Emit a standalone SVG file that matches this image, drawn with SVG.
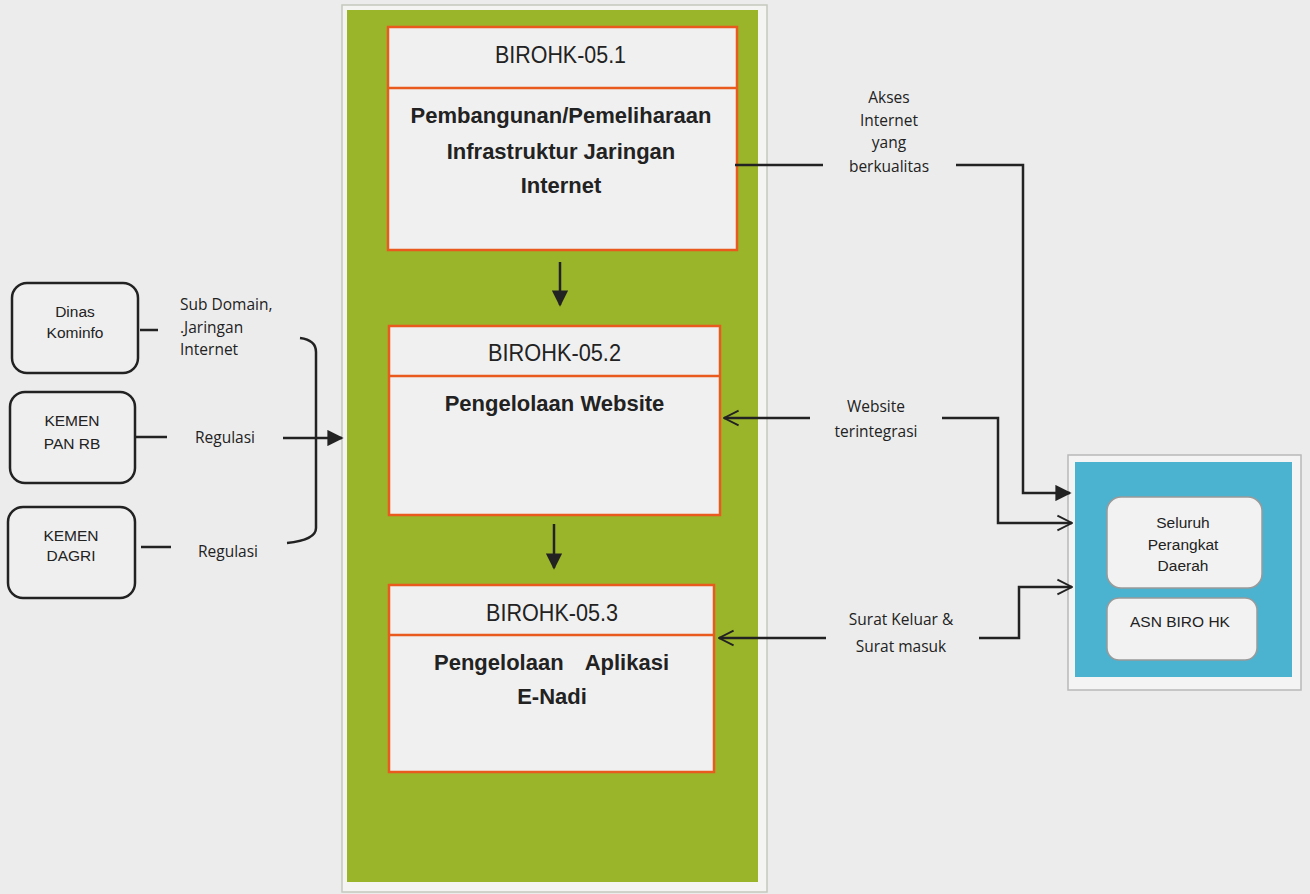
<svg xmlns="http://www.w3.org/2000/svg" width="1310" height="894" viewBox="0 0 1310 894">
  <style>
    .bg { fill: #ececec; }
    .task { fill: #f0f0f0; stroke: #e85a1e; stroke-width: 2.5; }
    .divider { stroke: #e85a1e; stroke-width: 2.5; }
    .actor { fill: #efefef; stroke: #222; stroke-width: 2.5; }
    .inner { fill: #f2f2f2; stroke: #9a9a9a; stroke-width: 1.5; }
    .code { font-family: "Liberation Sans", Arial, sans-serif; font-size: 24px; fill: #222; text-anchor: middle; }
    .title { font-family: "Liberation Sans", Arial, sans-serif; font-size: 22px; font-weight: bold; fill: #222; text-anchor: middle; }
    .actor-t { font-family: "Liberation Sans", Arial, sans-serif; font-size: 15.5px; fill: #222; text-anchor: middle; }
    .label { font-family: "Open Sans", "Liberation Sans", sans-serif; font-size: 15.5px; fill: #222; text-anchor: middle; }
    .label-l { font-family: "Open Sans", "Liberation Sans", sans-serif; font-size: 15.5px; fill: #222; text-anchor: start; }
    .wire { fill: none; stroke: #222; stroke-width: 2.5; }
  </style>
  <defs>
    <marker id="solid" viewBox="0 0 10 10" refX="9" refY="5" markerWidth="6.5" markerHeight="6.5" markerUnits="strokeWidth" orient="auto">
      <path d="M0,0 L10,5 L0,10 Z" fill="#222"/>
    </marker>
    <marker id="open" viewBox="0 0 12 12" refX="11" refY="6" markerWidth="7" markerHeight="7" markerUnits="strokeWidth" orient="auto">
      <path d="M1,1 L11,6 L1,11" fill="none" stroke="#222" stroke-width="1.3"/>
    </marker>
  </defs>

  <rect class="bg" x="0" y="0" width="1310" height="894"/>

  <!-- green programme panel -->
  <g id="panel">
    <rect x="342" y="5" width="425" height="887" fill="#f4f4f2" stroke="#c4c8bc" stroke-width="1.5"/>
    <rect x="347" y="10" width="411" height="872" fill="#9bb52b"/>
  </g>

  <g id="birohk-05-1">
    <rect class="task" x="388" y="27" width="349" height="223"/>
    <line class="divider" x1="388" y1="88" x2="737" y2="88"/>
    <text class="code" x="560.5" y="63" textLength="131" lengthAdjust="spacingAndGlyphs">BIROHK-05.1</text>
    <text class="title" x="561" y="123">Pembangunan/Pemeliharaan</text>
    <text class="title" x="561" y="159">Infrastruktur Jaringan</text>
    <text class="title" x="561" y="193">Internet</text>
  </g>

  <g id="birohk-05-2">
    <rect class="task" x="389" y="326" width="331" height="189"/>
    <line class="divider" x1="389" y1="376" x2="720" y2="376"/>
    <text class="code" x="554.5" y="361" textLength="133" lengthAdjust="spacingAndGlyphs">BIROHK-05.2</text>
    <text class="title" x="554.5" y="411">Pengelolaan Website</text>
  </g>

  <g id="birohk-05-3">
    <rect class="task" x="389" y="585" width="325" height="187"/>
    <line class="divider" x1="389" y1="635" x2="714" y2="635"/>
    <text class="code" x="552" y="621" textLength="132" lengthAdjust="spacingAndGlyphs">BIROHK-05.3</text>
    <text class="title" y="670"><tspan x="434" style="text-anchor:start">Pengelolaan</tspan><tspan x="669" style="text-anchor:end">Aplikasi</tspan></text>
    <text class="title" x="552" y="704">E-Nadi</text>
  </g>

  <g id="dinas-kominfo">
    <rect class="actor" x="12" y="283" width="126" height="90" rx="15"/>
    <text class="actor-t" x="75" y="317">Dinas</text>
    <text class="actor-t" x="75" y="338">Kominfo</text>
  </g>

  <g id="kemen-pan-rb">
    <rect class="actor" x="10" y="392" width="125" height="91" rx="15"/>
    <text class="actor-t" x="72" y="426">KEMEN</text>
    <text class="actor-t" x="72" y="449">PAN RB</text>
  </g>

  <g id="kemen-dagri">
    <rect class="actor" x="8" y="507" width="127" height="91" rx="15"/>
    <text class="actor-t" x="71" y="541">KEMEN</text>
    <text class="actor-t" x="71" y="561">DAGRI</text>
  </g>

  <g id="perangkat-daerah">
    <rect x="1068" y="455" width="233" height="235" fill="#f4f4f4" stroke="#b8b8b8" stroke-width="1.5"/>
    <rect x="1075" y="462" width="217" height="215" fill="#4bb2d0"/>
    <rect class="inner" x="1107" y="497" width="155" height="91" rx="14"/>
    <rect class="inner" x="1107" y="598" width="150" height="62" rx="12"/>
    <text class="actor-t" x="1183" y="528" font-size="15">Seluruh</text>
    <text class="actor-t" x="1183" y="550" font-size="15">Perangkat</text>
    <text class="actor-t" x="1183" y="571" font-size="15">Daerah</text>
    <text class="actor-t" x="1180" y="627" font-size="15">ASN BIRO HK</text>
  </g>

  <g id="connectors">
    <!-- internal flow -->
    <line class="wire" x1="560" y1="262" x2="560" y2="305" marker-end="url(#solid)"/>
    <line class="wire" x1="554" y1="524" x2="554" y2="568" marker-end="url(#solid)"/>

    <!-- inputs from the left -->
    <line class="wire" x1="140" y1="330" x2="158" y2="330"/>
    <line class="wire" x1="135" y1="437" x2="167" y2="437"/>
    <line class="wire" x1="141" y1="547" x2="171" y2="547"/>
    <path class="wire" d="M300,338 Q316,340 316,352 L316,528 Q316,540 287,543"/>
    <line class="wire" x1="283" y1="438" x2="342" y2="438" marker-end="url(#solid)"/>

    <!-- outputs to the right -->
    <line class="wire" x1="735" y1="165" x2="823" y2="165"/>
    <polyline class="wire" points="956,165 1023,165 1023,493 1070,493" marker-end="url(#solid)"/>
    <line class="wire" x1="810" y1="418" x2="724" y2="418" marker-end="url(#open)"/>
    <polyline class="wire" points="942,418 998,418 998,523 1072,523" marker-end="url(#open)"/>
    <line class="wire" x1="826" y1="638" x2="719" y2="638" marker-end="url(#open)"/>
    <polyline class="wire" points="979,638 1019,638 1019,587 1072,587" marker-end="url(#open)"/>

    <!-- connector labels -->
    <text class="label-l" x="180" y="310">Sub Domain,</text>
    <text class="label-l" x="180" y="333">.Jaringan</text>
    <text class="label-l" x="180" y="355">Internet</text>
    <text class="label" x="225" y="443">Regulasi</text>
    <text class="label" x="228" y="557">Regulasi</text>
    <text class="label" x="889" y="103">Akses</text>
    <text class="label" x="889" y="126">Internet</text>
    <text class="label" x="889" y="148">yang</text>
    <text class="label" x="889" y="172">berkualitas</text>
    <text class="label" x="876" y="412">Website</text>
    <text class="label" x="876" y="437">terintegrasi</text>
    <text class="label" x="901" y="625">Surat Keluar &amp;</text>
    <text class="label" x="901" y="652">Surat masuk</text>
  </g>
</svg>
